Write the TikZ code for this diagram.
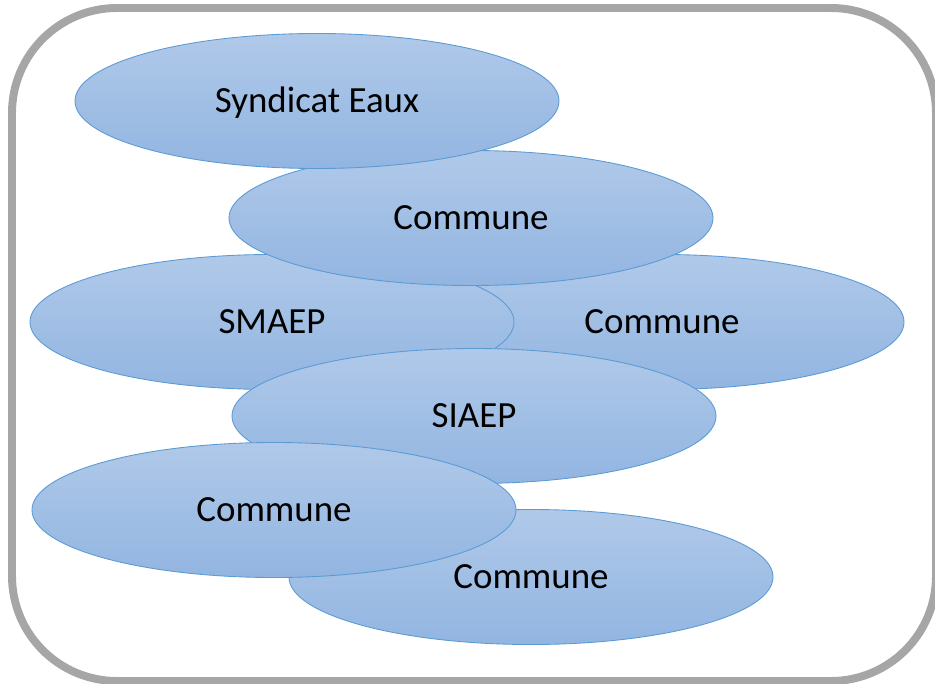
\documentclass[tikz,border=0pt]{standalone}
\usepackage{fontspec}
\setmainfont{Carlito}
\usetikzlibrary{shapes.geometric}
\definecolor{bulletop}{RGB}{176,201,233}
\definecolor{bullebas}{RGB}{146,181,225}
\definecolor{contour}{RGB}{91,155,213}
\definecolor{cadregris}{RGB}{166,166,166}

\begin{document}
\begin{tikzpicture}[x=0.03cm, y=-0.03cm,
  bulle/.style={ellipse, draw=contour, line width=0.75pt,
    top color=bulletop, bottom color=bullebas,
    minimum width=14.52cm, minimum height=4.05cm, inner sep=0pt,
    text height=20.3pt, text depth=0pt,
    font=\fontsize{31.5}{38}\selectfont},
  cadre/.style={draw=cadregris, line width=6.8pt, rounded corners=3.15cm}]
  \useasboundingbox (0,0) rectangle (935,684);
  \draw[cadre] (12,8) rectangle (936,681);
  % from back to front
  \node[bulle] (commD) at (662,322) {Commune};
  \node[bulle] (smaep) at (272,322) {SMAEP};
  \node[bulle] (commH) at (471,218) {Commune};
  \node[bulle] (syndic) at (317,101) {Syndicat Eaux};
  \node[bulle] (siaep) at (474,416) {SIAEP};
  \node[bulle] (commBD) at (531,577) {Commune};
  \node[bulle] (commBG) at (274,510) {Commune};
\end{tikzpicture}
\end{document}
